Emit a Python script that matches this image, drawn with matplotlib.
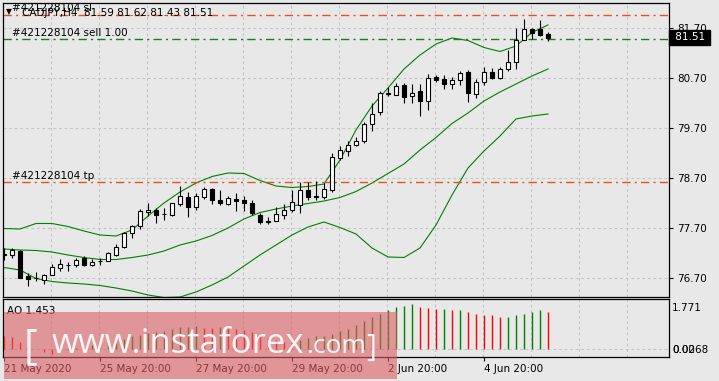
import matplotlib as mpl
mpl.use('Agg')
import matplotlib.pyplot as plt
from matplotlib.patches import Rectangle
from matplotlib.transforms import blended_transform_factory

# CADJPY H4 candles
opens = [77.17, 77.16, 77.23, 76.73, 76.70, 76.66, 76.76, 76.91, 76.95, 76.95,
         77.11, 76.97, 77.03, 77.05, 77.16, 77.33, 77.60, 77.73, 78.01, 78.05,
         77.98, 77.96, 78.19, 78.32, 78.13, 78.33, 78.47, 78.26, 78.19, 78.27,
         78.26, 78.21, 77.96, 77.83, 77.85, 77.96, 78.06, 78.16, 78.46, 78.33,
         78.33, 78.47, 79.11, 79.25, 79.36, 79.45, 79.78, 80.01, 80.39, 80.37,
         80.56, 80.35, 80.44, 80.25, 80.72, 80.67, 80.59, 80.67, 80.82, 80.39,
         80.63, 80.82, 80.71, 80.89, 81.03, 81.46, 81.68, 81.69, 81.59]
highs = [77.30, 77.29, 77.25, 76.79, 76.81, 76.78, 76.98, 77.08, 77.02, 77.10,
         77.14, 77.08, 77.09, 77.21, 77.37, 77.61, 77.75, 78.08, 78.20, 78.10,
         78.10, 78.20, 78.53, 78.41, 78.39, 78.51, 78.49, 78.46, 78.33, 78.39,
         78.33, 78.26, 78.00, 77.92, 78.12, 78.17, 78.46, 78.61, 78.61, 78.63,
         78.59, 79.19, 79.33, 79.43, 79.51, 79.82, 80.21, 80.43, 80.51, 80.59,
         80.59, 80.58, 80.58, 80.78, 80.76, 80.76, 80.72, 80.85, 80.86, 80.67,
         80.92, 80.90, 80.92, 81.26, 81.71, 81.88, 81.70, 81.86, 81.62]
lows = [77.06, 77.09, 76.70, 76.54, 76.63, 76.58, 76.75, 76.84, 76.84, 76.92,
        76.94, 76.94, 76.95, 77.03, 77.14, 77.30, 77.50, 77.68, 77.93, 77.80,
        77.86, 77.93, 78.13, 77.91, 78.06, 78.28, 78.18, 78.16, 78.15, 78.03,
        78.03, 77.95, 77.77, 77.78, 77.84, 77.88, 78.02, 78.00, 78.26, 78.26,
        78.28, 78.41, 79.06, 79.14, 79.34, 79.40, 79.63, 79.95, 80.33, 80.36,
        80.21, 80.21, 79.93, 80.06, 80.63, 80.48, 80.49, 80.55, 80.22, 80.30,
        80.55, 80.67, 80.68, 80.83, 80.87, 81.45, 81.48, 81.54, 81.43]
closes = [77.15, 77.25, 76.71, 76.68, 76.71, 76.75, 76.92, 76.98, 76.96, 77.07,
          76.97, 77.02, 77.04, 77.19, 77.31, 77.59, 77.73, 78.03, 78.07, 77.96,
          77.99, 78.19, 78.34, 78.13, 78.34, 78.47, 78.26, 78.21, 78.29, 78.23,
          78.21, 78.00, 77.83, 77.84, 77.98, 78.07, 78.21, 78.46, 78.31, 78.34,
          78.47, 79.13, 79.26, 79.36, 79.44, 79.78, 79.99, 80.39, 80.40, 80.55,
          80.33, 80.41, 80.25, 80.71, 80.67, 80.58, 80.67, 80.79, 80.41, 80.62,
          80.82, 80.71, 80.87, 81.02, 81.46, 81.69, 81.61, 81.57, 81.51]

# Bollinger bands, sampled every second bar
band_idx = list(range(0, 69, 2))
upper = [77.69, 77.68, 77.79, 77.79, 77.73, 77.64, 77.56, 77.54, 77.66, 77.94,
         78.20, 78.42, 78.60, 78.73, 78.80, 78.79, 78.65, 78.54, 78.51, 78.53,
         78.58, 79.06, 79.66, 80.14, 80.50, 80.88, 81.16, 81.38, 81.50, 81.45,
         81.31, 81.23, 81.34, 81.61, 81.76]
middle = [77.28, 77.26, 77.25, 77.22, 77.16, 77.11, 77.07, 77.07, 77.11, 77.16,
          77.24, 77.36, 77.44, 77.55, 77.70, 77.88, 78.01, 78.08, 78.14, 78.19,
          78.24, 78.31, 78.43, 78.60, 78.79, 78.98, 79.26, 79.51, 79.79, 80.00,
          80.24, 80.42, 80.58, 80.74, 80.88]
lower = [76.91, 76.86, 76.69, 76.63, 76.60, 76.58, 76.55, 76.50, 76.44, 76.36,
         76.31, 76.32, 76.42, 76.56, 76.72, 76.94, 77.16, 77.36, 77.56, 77.72,
         77.82, 77.71, 77.58, 77.30, 77.12, 77.11, 77.30, 77.76, 78.36, 78.90,
         79.24, 79.54, 79.88, 79.94, 79.98]

# Awesome Oscillator
ao = [0.50, 0.47, 0.30, 0.12, 0.00, -0.12, -0.18, -0.10, -0.02, 0.06,
      0.10, 0.16, 0.24, 0.30, 0.36, 0.42, 0.50, 0.56, 0.62, 0.68,
      0.72, 0.80, 0.87, 0.89, 0.92, 0.84, 0.82, 0.86, 0.84, 0.80,
      0.74, 0.66, 0.56, 0.45, 0.36, 0.30, 0.29, 0.36, 0.45, 0.52,
      0.53, 0.58, 0.70, 0.81, 0.93, 1.09, 1.25, 1.36, 1.52, 1.64,
      1.71, 1.771, 1.67, 1.60, 1.56, 1.57, 1.52, 1.53, 1.47, 1.39,
      1.35, 1.33, 1.25, 1.28, 1.33, 1.37, 1.45, 1.52, 1.453]

order_id = '#421228104'
sl_price = 81.96
sell_price = 81.48
tp_price = 78.61
price_ticks = [76.70, 77.70, 78.70, 79.70, 80.70, 81.70]
date_idx = [0, 12, 24, 36, 48, 60]
date_labels = ['21 May 2020', '25 May 20:00', '27 May 20:00', '29 May 20:00',
               '2 Jun 20:00', '4 Jun 20:00']

W, H = 719, 381
bg = '#e8e8e8'
grid_c = '#c4c4c4'
orange = '#e8501e'
dgreen = '#1e7b1e'

fig = plt.figure(figsize=(W / 100, H / 100), dpi=100, facecolor=bg)


def box(x0, y0, x1, y1):
    return [x0 / W, 1 - y1 / H, (x1 - x0) / W, (y1 - y0) / H]


ax = fig.add_axes(box(3, 2.7, 669, 296.7), facecolor=bg)
ax2 = fig.add_axes(box(3, 299.3, 669, 356.7), facecolor=bg)

n = len(closes)
for a in (ax, ax2):
    a.set_xlim(-0.125, 83.125)
    for k in range(1, 14):
        a.axvline(6 * k - 0.125, color=grid_c, lw=0.8, dashes=(2.5, 2.5), zorder=0)
    for s in a.spines.values():
        s.set_linewidth(0.9)

ax.set_ylim(76.326, 82.206)
for p in price_ticks:
    ax.axhline(p, color=grid_c, lw=0.8, dashes=(2.5, 2.5), zorder=0)

# bands
ax.plot(band_idx, upper, color='#008000', lw=0.8, zorder=2)
ax.plot(band_idx, middle, color='#008000', lw=0.8, zorder=2)
ax.plot(band_idx, lower, color='#008000', lw=0.8, zorder=2)

# candles
for i in range(n):
    o, h, l, c = opens[i], highs[i], lows[i], closes[i]
    ax.vlines(i, l, h, color='black', lw=0.8, zorder=3)
    ax.bar(i, max(abs(c - o), 0.004), bottom=min(o, c), width=0.62,
           facecolor='white' if c > o else 'black', edgecolor='black',
           lw=0.8, zorder=4)

# order lines
ax.axhline(sl_price, color=orange, lw=1, dashes=(6, 3, 1.5, 3), zorder=2)
ax.axhline(tp_price, color=orange, lw=1, dashes=(6, 3, 1.5, 3), zorder=2)
ax.axhline(sell_price, color=dgreen, lw=1, dashes=(6, 3, 1.5, 3), zorder=2)

ax.yaxis.tick_right()
ax.set_yticks(price_ticks)
ax.set_yticklabels(['%.2f' % p for p in price_ticks])
ax.tick_params(axis='y', labelsize=7.5, length=3, pad=3, direction='out')
ax.set_xticks([])

tr = blended_transform_factory(ax.transAxes, ax.transData)
ax.text(1.004, closes[-1], ' %.2f ' % closes[-1], transform=tr, color='white',
        fontsize=7.5, va='center', ha='left', clip_on=False, zorder=10,
        bbox=dict(boxstyle='square,pad=0.22', fc='black', ec='black'))

fig.text(12 / W, 1 - 8.3 / H, order_id + ' sl', fontsize=7.5, va='center')
fig.text(6 / W, 1 - 12 / H, '\u25bc', fontsize=5.5, va='center')
fig.text(22 / W, 1 - 12.7 / H, 'CADJPY,H4  %.2f %.2f %.2f %.2f'
         % (opens[-1], highs[-1], lows[-1], closes[-1]), fontsize=7.5, va='center')
fig.text(12 / W, 1 - 32.5 / H, order_id + ' sell 1.00', fontsize=7.5, va='center')
fig.text(12 / W, 1 - 176 / H, order_id + ' tp', fontsize=7.5, va='center')

# AO panel
ax2.set_ylim(-0.289, 1.953)
ax2.axhline(0, color=grid_c, lw=0.8, dashes=(2.5, 2.5), zorder=0)
ao_cols = ['#ff0000' if i == 0 or ao[i] <= ao[i - 1] else '#008000' for i in range(n)]
ax2.vlines(range(n), 0, ao, colors=ao_cols, lw=1, zorder=2)
ax2.set_yticks([])
ax2.set_xticks(date_idx)
ax2.set_xticklabels(date_labels, ha='left')
ax2.tick_params(axis='x', labelsize=7.5, length=3, pad=2)
fig.text(7 / W, 1 - 310.5 / H, 'AO %.3f' % ao[-1], fontsize=7.5, va='center')
fig.text(672 / W, 1 - 308 / H, '%.3f' % max(ao), fontsize=7.5, va='center')
fig.text(672 / W, 1 - 350 / H, '0.0268', fontsize=7.5, va='center')
fig.text(672 / W, 1 - 350 / H, '0.00', fontsize=7.5, va='center')

# watermark
fig.patches.append(Rectangle((3.7 / W, 1 - 379 / H), 393 / W, 67 / H,
                             transform=fig.transFigure, fc='#db5f63',
                             alpha=0.6, ec='none', zorder=5))
wm = dict(color='white', alpha=0.9, family=['Open Sans', 'DejaVu Sans'],
          va='baseline', zorder=6)
fig.text(24 / W, 1 - 358 / H, '[', fontsize=30, **wm)
fig.text(52 / W, 1 - 353 / H, 'www.instaforex', fontsize=25, **wm)
fig.text(306 / W, 1 - 353 / H, '.com', fontsize=19, **wm)
fig.text(366 / W, 1 - 356 / H, ']', fontsize=22, **wm)

fig.savefig('out.png', dpi=100, facecolor=bg)
